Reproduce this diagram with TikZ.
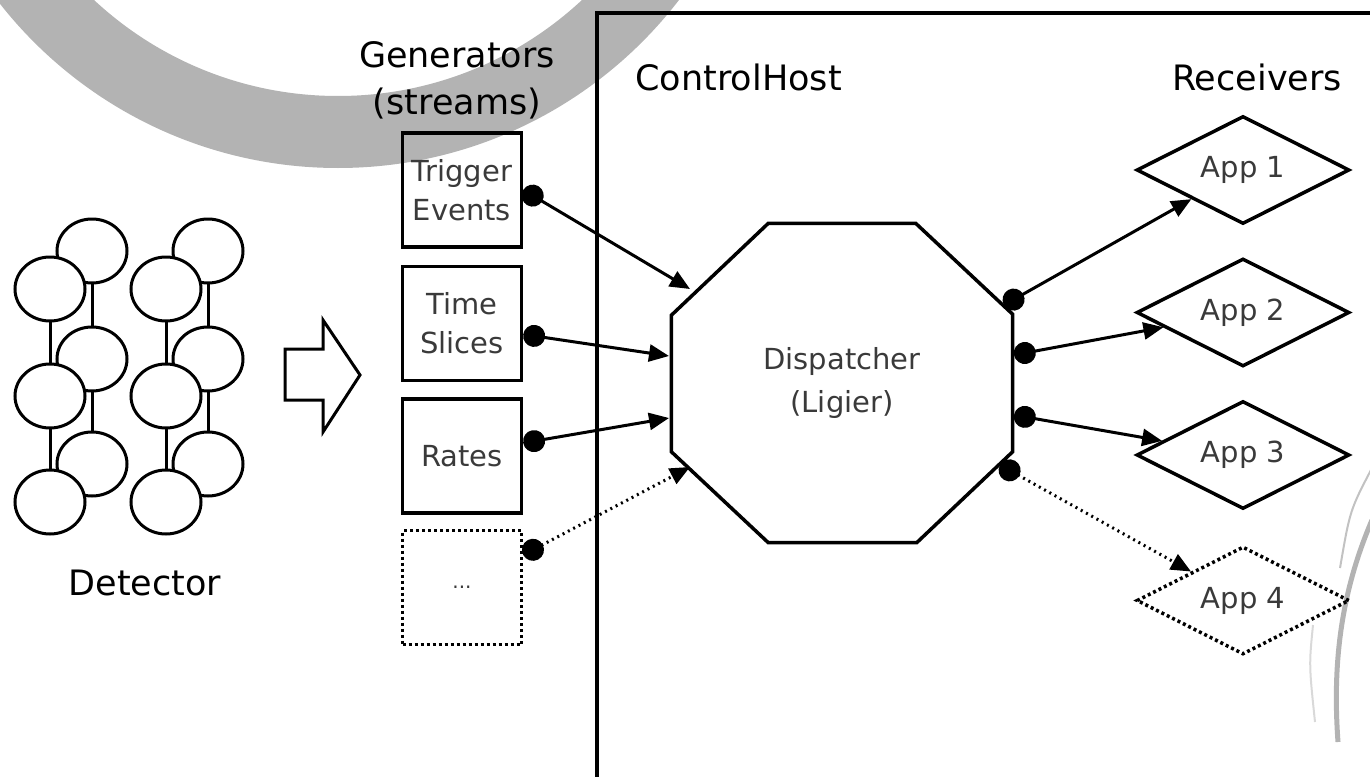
\documentclass[tikz,border=0pt]{standalone}
\usepackage{fontspec}
\setmainfont{DejaVu Sans}
\usetikzlibrary{positioning,shapes.geometric,arrows.meta}

\definecolor{ringgray}{HTML}{B3B3B3}
\definecolor{textgray}{HTML}{3A3A3A}

\tikzset{
  headfont/.style={font=\fontsize{35}{47}\selectfont},
  innerfont/.style={font=\fontsize{29}{39}\selectfont, text=textgray},
  genbox/.style={draw, line width=3.5pt, minimum width=119pt, minimum height=114pt,
    inner sep=0pt, align=center, innerfont},
  appbox/.style={diamond, draw, line width=3.5pt, aspect=2, minimum width=213pt,
    minimum height=108pt, inner sep=0pt, innerfont},
  conn/.style={line width=3pt, {Circle[length=22pt]}-{Triangle[length=20pt,width=17pt]}},
  optconn/.style={conn, dash pattern=on 2pt off 4pt},
  dotline/.style={dash pattern=on 3pt off 3pt}
}

\begin{document}
\begin{tikzpicture}[x=1pt, y=-1pt]
    \useasboundingbox (0,0) rectangle (1370,776);

    % Ring in the back
    \begin{scope}
        \clip (0,0) rectangle (1370,776);
        \draw[ringgray, line width=72pt] (338,-262) circle (394);
        \draw[ringgray!80, line width=2pt] (1372,468) .. controls (1350,510) .. (1340,568);
        \draw[ringgray, line width=5pt] (1372,520) .. controls (1342,590) and (1332,660) .. (1338,742);
        \draw[ringgray!50, line width=2pt] (1313,625) .. controls (1309,665) .. (1315,722);
    \end{scope}

    % Detector
    \foreach \gx in {0,116} {
        \foreach \cy in {251,359,464}
            \draw[fill=white, line width=3pt] (92+\gx,\cy) ellipse (35 and 32);
        \foreach \cy in {289,396,502}
            \draw[fill=white, line width=3pt] (50+\gx,\cy) ellipse (35 and 32);
        \draw[line width=3pt] (50+\gx,321) -- (50+\gx,364) (50+\gx,428) -- (50+\gx,470)
            (92+\gx,283) -- (92+\gx,327) (92+\gx,391) -- (92+\gx,432);
    }
    \node[headfont] (det) at (145,583) {Detector};

    % Big arrow
    \draw[line width=3pt] (285,349) -- (323,349) -- (323,320) -- (360,375)
        -- (323,432) -- (323,400) -- (285,400) -- cycle;

    % ControlHost frame
    \draw[line width=3.5pt] (597,780) -- (597,13) -- (1375,13);
    \node[headfont, anchor=west] (host) at (632,77) {ControlHost};
    \node[headfont] (recv) at (1257,77) {Receivers};

    % Generators
    \node[headfont, align=center] (gens) at (457,80) {Generators\\(streams)};
    \node[genbox] (trig) at (462,190) {Trigger\\Events};
    \node[genbox, below=16pt of trig] (time) {Time\\Slices};
    \node[genbox, below=15pt of time] (rates) {Rates};
    \node[genbox, dotline, below=14pt of rates, font=\fontsize{20}{24}\selectfont] (more) {...};

    % Dispatcher
    \node[minimum width=341pt, minimum height=319pt, inner sep=0pt, align=center,
        font=\fontsize{29}{43}\selectfont, text=textgray] (disp) at (842,383)
        {Dispatcher\\(Ligier)};
    \draw[line width=3.5pt] ([xshift=97pt]disp.north west) -- ([xshift=-97pt]disp.north east)
        -- ([yshift=-91pt]disp.north east) -- ([yshift=91pt]disp.south east)
        -- ([xshift=-96pt]disp.south east) -- ([xshift=97pt]disp.south west)
        -- ([yshift=91pt]disp.south west) -- ([yshift=-92pt]disp.north west) -- cycle;
    \coordinate (in1) at (690,289);
    \coordinate (in2) at (669,356);
    \coordinate (in3) at (669,418);
    \coordinate (in4) at (690,467);
    \coordinate (out1) at (1004,305);
    \coordinate (out2) at (1014,355);
    \coordinate (out3) at (1014,415);
    \coordinate (out4) at (1000,465);

    % Receivers
    \node[appbox] (app1) at (1243,170) {App 1};
    \node[appbox, below=31pt of app1] (app2) {App 2};
    \node[appbox, below=31pt of app2] (app3) {App 3};
    \node[appbox, dotline, below=34pt of app3] (app4) {App 4};

    % Streams in
    \draw[conn] (trig.east) -- (in1);
    \draw[conn] (time.-10) -- (in2);
    \draw[conn] (rates.12) -- (in3);
    \draw[optconn] (more.28) -- (in4);

    % Streams out
    \draw[conn] (out1) -- (app1);
    \draw[conn] (out2) -- (app2);
    \draw[conn] (out3) -- (app3);
    \draw[optconn] (out4) -- (app4);
\end{tikzpicture}
\end{document}
